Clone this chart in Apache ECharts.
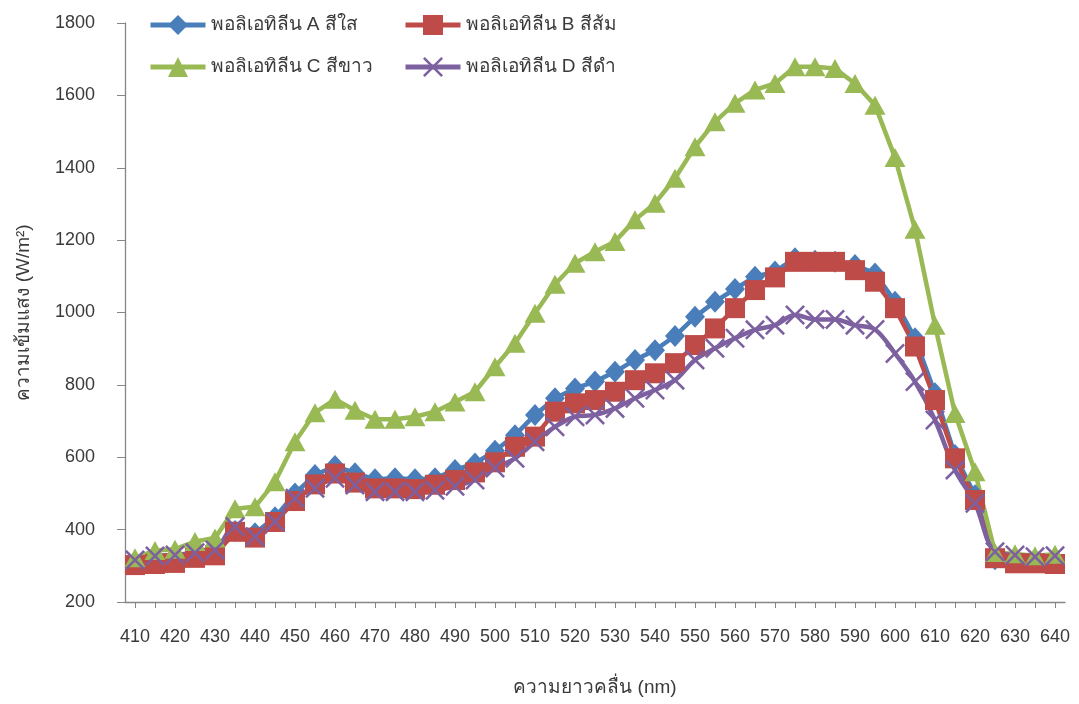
<!DOCTYPE html>
<html>
<head>
<meta charset="utf-8">
<script src="https://cdn.jsdelivr.net/npm/echarts@6/dist/echarts.min.js"></script>
<style>
html,body{margin:0;padding:0;background:#fff;}
#chart{width:1079px;height:704px;}
</style>
</head>
<body>
<div id="chart"></div>
<script>
// Wavelength categories (nm)
const wavelengths = ['410','415','420','425','430','435','440','445','450','455','460','465','470','475','480','485','490','495','500','505','510','515','520','525','530','535','540','545','550','555','560','565','570','575','580','585','590','595','600','605','610','615','620','625','630','635','640'];

// Series names
const nameA = 'พอลิเอทิลีน A สีใส';
const nameB = 'พอลิเอทิลีน B สีส้ม';
const nameC = 'พอลิเอทิลีน C สีขาว';
const nameD = 'พอลิเอทิลีน D สีดำ';

// Light intensity (W/m^2)
const valuesA = [310,318,322,330,338,396,390,434,500,551,576,556,539,542,539,542,565,583,618,661,717,763,790,809,836,869,896,935,988,1030,1065,1099,1113,1150,1143,1140,1131,1108,1030,929,777,606,495,318,315,312,312];
const valuesB = [302,305,308,322,329,394,378,421,479,525,555,530,514,514,512,524,537,558,586,629,657,726,749,758,781,813,832,860,910,956,1012,1062,1097,1140,1140,1140,1117,1085,1012,906,758,597,482,321,307,307,305];
const valuesC = [322,342,346,367,377,458,463,532,643,723,760,730,705,705,712,726,753,781,850,915,998,1078,1136,1168,1196,1256,1302,1371,1458,1527,1578,1615,1633,1679,1679,1674,1633,1573,1428,1230,965,721,560,337,333,328,332];
const valuesD = [316,327,330,336,344,408,380,422,487,514,542,523,505,505,505,509,520,537,570,597,643,684,712,717,735,763,786,813,869,901,929,952,965,993,981,981,965,953,887,809,703,565,473,339,330,325,328];

// Axis settings
const yMin = 200, yMax = 1800, yStep = 200;
const xTitle = 'ความยาวคลื่น (nm)';
const yTitle = 'ความเข้มแสง (W/m²)';

const FONT = "'Liberation Sans', Arial, 'Noto Sans', 'DejaVu Sans', sans-serif";
const TXT = '#3a3a3a';
const AX = '#868686';
const cBlue = '#4A7EBB', cRed = '#BE4B48', cGreen = '#98B954', cPurple = '#7D60A0';
const crossPath = 'path://M0,0.9L0.9,0L10,9.1L9.1,10ZM9.1,0L10,0.9L0.9,10L0,9.1Z';

const chart = echarts.init(document.getElementById('chart'), null, {renderer:'canvas'});

function legendAt(name, left, top){
  return {
    data:[name], left:left, top:top, orient:'horizontal', padding:0,
    itemWidth:55, itemHeight:25, itemGap:0,
    lineStyle:{width:5},
    textStyle:{fontFamily:FONT, fontSize:19, color:TXT}
  };
}

function lineSeries(name, data, color, symbol, size, extra){
  return Object.assign({
    name:name, type:'line', data:data,
    symbol:symbol, symbolSize:size, showAllSymbol:true,
    lineStyle:{color:color, width:4.5},
    itemStyle:{color:color},
    emphasis:{disabled:true},
    animation:false
  }, extra||{});
}

chart.setOption({
  backgroundColor:'#ffffff',
  animation:false,
  textStyle:{fontFamily:FONT},
  grid:{left:125, right:14, top:23, bottom:102, containLabel:false},
  legend:[
    legendAt(nameA, 148, 15),
    legendAt(nameB, 403, 15),
    legendAt(nameC, 148, 57),
    legendAt(nameD, 403, 57)
  ],
  xAxis:{
    type:'category', data:wavelengths, boundaryGap:true,
    name:xTitle, nameLocation:'middle', nameGap:76,
    nameTextStyle:{fontFamily:FONT, fontSize:19, color:TXT},
    axisLine:{show:true, lineStyle:{color:AX, width:1.3}},
    axisTick:{show:true, alignWithLabel:true, interval:0, length:6, lineStyle:{color:AX}},
    axisLabel:{interval:1, margin:26, fontFamily:FONT, fontSize:18, color:TXT},
    splitLine:{show:false}
  },
  yAxis:{
    type:'value', min:yMin, max:yMax, interval:yStep,
    name:yTitle, nameLocation:'middle', nameGap:92, nameRotate:90,
    nameTextStyle:{fontFamily:FONT, fontSize:19, color:TXT},
    axisLine:{show:true, lineStyle:{color:AX, width:1.3}},
    axisTick:{show:true, length:8, lineStyle:{color:AX}},
    axisLabel:{margin:30, fontFamily:FONT, fontSize:18, color:TXT, formatter:function(v){return String(v);}},
    splitLine:{show:false}
  },
  series:[
    lineSeries(nameA, valuesA, cBlue, 'diamond', [20,22]),
    lineSeries(nameB, valuesB, cRed, 'rect', 20),
    lineSeries(nameC, valuesC, cGreen, 'triangle', [21,19]),
    lineSeries(nameD, valuesD, cPurple, crossPath, 20, {smooth:0.35})
  ]
});
</script>
</body>
</html>
